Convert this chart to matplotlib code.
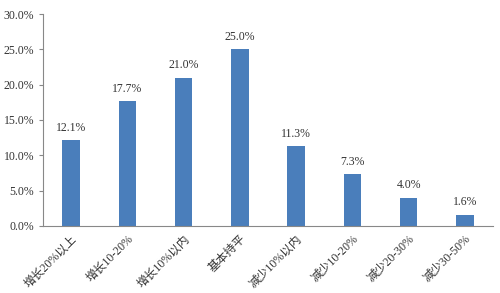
import matplotlib.pyplot as plt
from matplotlib.ticker import PercentFormatter

plt.rcParams['font.family'] = ['Liberation Serif', 'Noto Sans CJK SC', 'DejaVu Sans']

categories = ['增长20%以上', '增长10-20%', '增长10%以内', '基本持平',
              '减少10%以内', '减少10-20%', '减少20-30%', '减少30-50%']
values = [12.1, 17.7, 21.0, 25.0, 11.3, 7.3, 4.0, 1.6]

fig = plt.figure(figsize=(5, 2.93), dpi=100)
ax = fig.add_axes([0.086, 0.229, 0.9, 0.723])

bars = ax.bar(range(len(categories)), values, width=0.31, color='#4a7ebb')
for b, v in zip(bars, values):
    ax.text(b.get_x() + b.get_width() / 2, v + 0.9, f'{v:.1f}%',
            ha='center', va='bottom', fontsize=8.5, color='#333333')

ax.set_xlim(-0.5, len(categories) - 0.5)
ax.set_ylim(0, 30)
ax.set_yticks([0, 5, 10, 15, 20, 25, 30])
ax.yaxis.set_major_formatter(PercentFormatter(decimals=1))
ax.set_xticks(range(len(categories)))
ax.set_xticklabels(categories, rotation=45, ha='right', rotation_mode='anchor',
                   fontsize=8.5, color='#333333')
ax.tick_params(axis='y', labelsize=8.5, colors='#333333', length=3, color='#888888')
ax.tick_params(axis='x', length=0, pad=5)

for s in ['top', 'right']:
    ax.spines[s].set_visible(False)
ax.spines['left'].set_color('#888888')
ax.spines['bottom'].set_color('#888888')

fig.savefig('out.png', dpi=100)
